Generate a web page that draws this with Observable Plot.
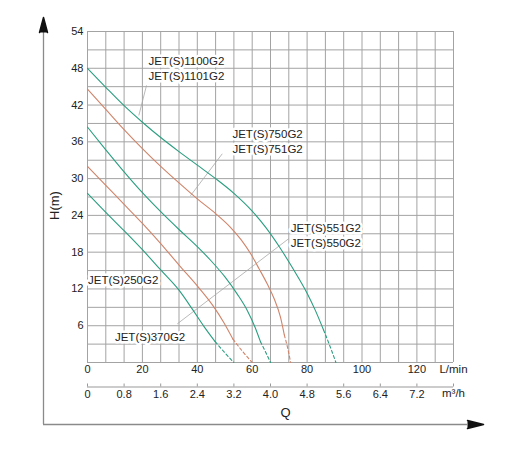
<!DOCTYPE html>
<html>
<head>
<meta charset="utf-8">
<script src="https://cdn.jsdelivr.net/npm/d3@7"></script>
<script src="https://cdn.jsdelivr.net/npm/@observablehq/plot@0.6"></script>
<style>
  html, body { margin: 0; padding: 0; background: #fff; overflow: hidden; }
</style>
</head>
<body>
<div id="chart"></div>
<script>
// flow Q in L/min, head H in m
const qTicks = [0, 20, 40, 60, 80, 100, 120]
const m3hTicks = [0, 0.8, 1.6, 2.4, 3.2, 4.0, 4.8, 5.6, 6.4, 7.2]
const m3hLabels = ['0', '0.8', '1.6', '2.4', '3.2', '4.0', '4.8', '5.6', '6.4', '7.2']
const hTicks = [6, 12, 18, 24, 30, 36, 42, 48, 54]
const units = ['L/min', 'm³/h']
const qMax = 8 * 50 / 3 // 8 m³/h in L/min
const toQ = m3h => m3h * 50 / 3

// curves [Q, H], solid part then dashed tail
const jet250 = [[0, 27.6], [6.67, 24.5], [13.33, 21.5], [20, 18.4], [26.67, 15.1], [33.33, 11.8], [38.2, 8.7], [42.4, 5.9], [46.5, 3.4]]
const jet250Tail = [[46.5, 3.4], [50, 1.6], [53.3, 0]]
const jet370 = [[0, 32], [6.67, 28.9], [13.33, 25.8], [20, 22.7], [26.67, 19.4], [33.33, 15.9], [40, 12.5], [45.5, 9.4], [49.7, 6.5], [53, 3.8]]
const jet370Tail = [[53, 3.8], [56.5, 1.8], [60, 0]]
const jet550 = [[0, 38.4], [6.67, 34.7], [13.33, 31.1], [20, 27.7], [26.67, 24.6], [33.33, 21.7], [40, 18.9], [45, 16.6], [50, 14.0], [54.5, 11.2], [58.2, 8.5], [61, 5.8], [63, 3.4]]
const jet550Tail = [[63, 3.4], [65, 1.6], [66.7, 0]]
const jet750 = [[0, 44.6], [6.67, 41.3], [13.33, 38.0], [20, 34.9], [26.67, 32.0], [33.33, 29.3], [40, 26.7], [46.67, 24.3], [52, 22.1], [56, 20.0], [59.5, 17.7], [62.5, 15.3], [65.5, 12.8], [68, 10.4], [70.3, 7.4], [71.7, 4.5]]
const jet750Tail = [[71.7, 4.5], [73, 2.2], [74, 0]]
const jet1100 = [[0, 48], [6.67, 44.9], [13.33, 41.9], [20, 39.2], [26.67, 36.7], [33.33, 34.4], [40, 32.2], [46.67, 30.0], [53.33, 27.6], [60, 24.7], [65, 22.0], [70, 18.8], [75, 15.2], [80, 11.3], [83, 8.5], [86, 5.3]]
const jet1100Tail = [[86, 5.3], [88.3, 2.7], [90.5, 0]]

const green = '#2a9e80'
const salmon = '#d0846a'

const curves = [
  {solid: jet250, tail: jet250Tail, color: green},
  {solid: jet370, tail: jet370Tail, color: salmon},
  {solid: jet550, tail: jet550Tail, color: green},
  {solid: jet750, tail: jet750Tail, color: salmon},
  {solid: jet1100, tail: jet1100Tail, color: green},
]

const labels = [
  {text: 'JET(S)1100G2\nJET(S)1101G2', q: 22.2, h: 48.1},
  {text: 'JET(S)750G2\nJET(S)751G2', q: 52.8, h: 36.2},
  {text: 'JET(S)551G2\nJET(S)550G2', q: 74.0, h: 20.8},
  {text: 'JET(S)250G2', q: 0.2, h: 13.5},
  {text: 'JET(S)370G2', q: 10.0, h: 4.3},
]

const leaders = [
  [[21.5, 45.2], [18.7, 40.3]],
  [[49.1, 34.05], [37.5, 27.2]],
  [[73.3, 20.2], [32.7, 6.3]],
]

const gridColor = '#a3a3a3'
const axisColor = '#999'
const xy = {x: d => d[0], y: d => d[1]}

let chart = Plot.plot({
  width: 512,
  height: 450,
  marginLeft: 87,
  marginRight: 59,
  marginTop: 31,
  marginBottom: 88,
  x: {domain: [0, qMax], axis: null},
  y: {domain: [0, 54], axis: null},
  style: {
    fontFamily: '"Liberation Sans", Arial, sans-serif',
    color: '#222',
    background: '#fff',
  },
  marks: [
    // grid
    Plot.ruleX(d3.range(0, 21).map(k => k * qMax / 20), {stroke: gridColor, strokeWidth: 1}),
    Plot.ruleY(d3.range(0, 19).map(j => j * 3), {stroke: gridColor, strokeWidth: 1}),

    // leader lines
    Plot.link(leaders, {
      x1: d => d[0][0], y1: d => d[0][1],
      x2: d => d[1][0], y2: d => d[1][1],
      stroke: '#a8a8a8', strokeWidth: 0.8
    }),

    // pump curves
    ...curves.flatMap(c => [
      Plot.line(c.solid, {...xy, stroke: c.color, strokeWidth: 1.1, curve: 'monotone-x'}),
      Plot.line(c.tail, {...xy, stroke: c.color, strokeWidth: 1.1, strokeDasharray: '3,2.5', curve: 'monotone-x'}),
    ]),

    // H ticks
    Plot.text(hTicks, {y: d => d, text: d => d, frameAnchor: 'left', textAnchor: 'end', dx: -4, fontSize: 11}),

    // L/min row
    Plot.text(qTicks, {x: d => d, text: d => d, frameAnchor: 'bottom', dy: 10, fontSize: 11}),
    Plot.text([qMax], {x: d => d, text: () => units[0], frameAnchor: 'bottom', dy: 10, fontSize: 11.5}),

    // m3/h row
    Plot.ruleY([0], {dy: 24.5, stroke: axisColor, strokeWidth: 1}),
    Plot.ruleX([...m3hTicks, 8], {x: d => toQ(d), insetTop: 328, dy: 24.5, stroke: axisColor, strokeWidth: 1}),
    Plot.text(m3hTicks, {x: d => toQ(d), text: (d, i) => m3hLabels[i], frameAnchor: 'bottom', dy: 35, fontSize: 11}),
    Plot.text([qMax], {x: d => d, text: () => units[1], frameAnchor: 'bottom', dy: 34, fontSize: 11.5}),

    // axis titles
    Plot.text(['Q'], {text: d => d, frameAnchor: 'bottom', dx: 15, dy: 54, fontSize: 13}),
    Plot.text(['H(m)'], {text: d => d, frameAnchor: 'left', dx: -33, dy: 23, rotate: -90, fontSize: 13}),

    // arrows
    Plot.ruleY([0], {dy: 62, insetLeft: -44, insetRight: -14, stroke: '#8a8a8a', strokeWidth: 1.3}),
    Plot.ruleX([0], {dx: -44, insetTop: 1, insetBottom: -62, stroke: '#8a8a8a', strokeWidth: 1.3}),
    Plot.vector([0], {frameAnchor: 'top-left', dx: -44, dy: 1, length: 15, rotate: 0, anchor: 'start', shape: 'spike', r: 4, fill: '#111', stroke: '#111'}),
    Plot.vector([0], {frameAnchor: 'bottom-right', dx: 14, dy: 62, length: 16, rotate: 90, anchor: 'start', shape: 'spike', r: 4, fill: '#111', stroke: '#111'}),

    // model labels
    Plot.text(labels, {
      x: 'q', y: 'h', text: 'text',
      textAnchor: 'start', lineAnchor: 'middle', lineHeight: 1.27,
      fontSize: 11.5, fill: '#222',
      stroke: 'white', strokeWidth: 5, paintOrder: 'stroke'
    }),
  ],
})

d3.select('#chart').append(() => chart)
</script>
</body>
</html>
